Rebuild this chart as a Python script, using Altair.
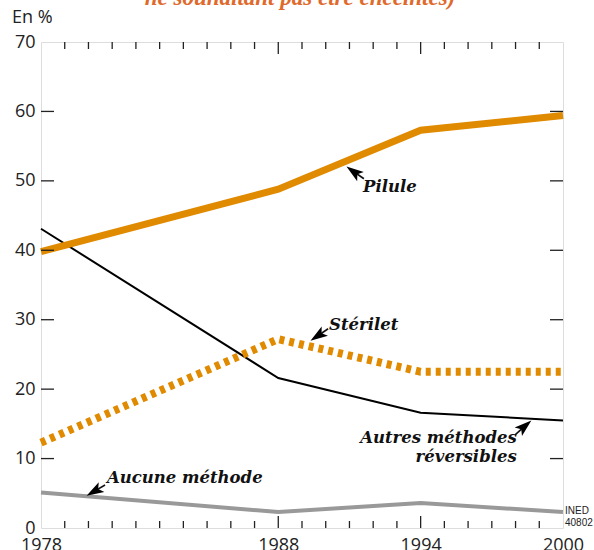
import altair as alt
import pandas as pd

# ---- data ----
years = [1978, 1988, 1994, 2000]
pilule = [39.8, 48.8, 57.3, 59.4]
sterilet = [12.3, 27.2, 22.5, 22.5]
autres = [43.1, 21.6, 16.6, 15.5]
aucune = [5.1, 2.3, 3.6, 2.3]

y_ticks = [0, 10, 20, 30, 40, 50, 60, 70]
x_labels = [1978, 1988, 1994, 2000]
minor_years = [y for y in range(1979, 2000) if y not in (1988, 1994)]
major_years = [1988, 1994]

# label annotations (data units)
lab_text = ["Pilule", "Stérilet", "Aucune méthode", "Autres méthodes", "réversibles"]
lab_x = [1991.57, 1990.14, 1980.78, 1998.05, 1998.05]
lab_y = [48.4, 28.5, 6.5, 12.2, 9.5]
lab_align = ["left", "left", "left", "right", "right"]

# arrows: tip and tail (data units), head angle
arr_tip_x = [1990.85, 1989.34, 1979.90, 1998.69]
arr_tip_y = [52.1, 26.9, 4.6, 15.6]
arr_tail_x = [1991.61, 1990.10, 1980.70, 1997.98]
arr_tail_y = [50.3, 28.7, 6.2, 13.4]
arr_angle = [306, 236, 240, 49]

W, H = 522, 486
ORANGE = "#E08A00"
SERIF = "DejaVu Serif"
SANS = "Open Sans"

rows = []
for name, vals in [("Pilule", pilule), ("Stérilet", sterilet),
                   ("Autres", autres), ("Aucune", aucune)]:
    for yr, v in zip(years, vals):
        rows.append({"serie": name, "annee": yr, "val": v})
df = pd.DataFrame(rows)

xs = alt.Scale(domain=[1978, 2000], nice=False, zero=False)
ys = alt.Scale(domain=[0, 70], nice=False)
XAX = alt.Axis(values=x_labels, format="d", ticks=False, domain=False, grid=False,
               labelFont=SANS, labelFontSize=18, labelColor="#222", labelFlush=False,
               labelBound=False, labelOverlap=False, labelPadding=8, title=None)
YAX = alt.Axis(values=y_ticks, ticks=False, domain=False, grid=False,
               labelFont=SANS, labelFontSize=18, labelColor="#222", labelFlush=False,
               labelBound=False, labelOverlap=False, labelPadding=6, title=None)

def X(f):
    return alt.X(f, scale=xs, axis=XAX)

def Y(f):
    return alt.Y(f, scale=ys, axis=YAX)

def line(name, color, width, dash=None):
    kw = dict(color=color, strokeWidth=width, strokeCap="butt", strokeJoin="miter", clip=False)
    if dash:
        kw["strokeDash"] = dash
    return alt.Chart(df[df.serie == name]).mark_line(**kw).encode(
        x=X("annee:Q"), y=Y("val:Q"))

ytk = pd.DataFrame({"val": [10, 20, 30, 40, 50, 60]})
left_ticks = alt.Chart(ytk).mark_rule(color="#222", strokeWidth=1.3).encode(
    y=Y("val:Q"), x=alt.value(0), x2=alt.value(13))
right_ticks = alt.Chart(ytk).mark_rule(color="#222", strokeWidth=1.3).encode(
    y=Y("val:Q"), x=alt.value(W - 13), x2=alt.value(W))

mn = pd.DataFrame({"annee": minor_years})
mj = pd.DataFrame({"annee": major_years})
top_minor = alt.Chart(mn).mark_rule(color="#222", strokeWidth=1.3).encode(
    x=X("annee:Q"), y=alt.value(0), y2=alt.value(7))
top_major = alt.Chart(mj).mark_rule(color="#222", strokeWidth=1.3).encode(
    x=X("annee:Q"), y=alt.value(0), y2=alt.value(12))
bot_minor = alt.Chart(mn).mark_rule(color="#222", strokeWidth=1.3).encode(
    x=X("annee:Q"), y=alt.value(H - 7), y2=alt.value(H))
bot_major = alt.Chart(mj).mark_rule(color="#222", strokeWidth=1.3).encode(
    x=X("annee:Q"), y=alt.value(H - 12), y2=alt.value(H))

labs = pd.DataFrame({"t": lab_text, "x": lab_x, "y": lab_y, "a": lab_align})
def lab(sub):
    return alt.Chart(sub).mark_text(font=SERIF, fontSize=16.5, fontWeight="bold", fontStyle="italic",
                                    color="#111", baseline="alphabetic",
                                    align=sub["a"].iloc[0]).encode(
        x=X("x:Q"), y=Y("y:Q"), text="t:N")
labels_left = lab(labs[labs.a == "left"])
labels_right = lab(labs[labs.a == "right"])

arr = pd.DataFrame({"tx": arr_tip_x, "ty": arr_tip_y, "sx": arr_tail_x, "sy": arr_tail_y,
                    "ang": arr_angle})
arr["hx"] = arr.tx + 0.42 * (arr.sx - arr.tx)
arr["hy"] = arr.ty + 0.42 * (arr.sy - arr.ty)
stems = alt.Chart(arr).mark_rule(color="#111", strokeWidth=1.6).encode(
    x=X("hx:Q"), y=Y("hy:Q"), x2="sx:Q", y2="sy:Q")
heads = alt.Chart(arr).mark_point(
    shape="M0,-1 L0.65,1 L0,0.55 L-0.65,1 Z", filled=True, color="#000", opacity=1, size=300
).encode(x=X("hx:Q"), y=Y("hy:Q"), angle=alt.Angle("ang:Q", scale=None))

enpct = alt.Chart(pd.DataFrame({"t": ["En %"]})).mark_text(
    font=SANS, fontSize=18, color="#222", align="left", baseline="middle").encode(
    text="t:N", x=alt.value(-29), y=alt.value(-24))
title = alt.Chart(pd.DataFrame({"t": ["ne souhaitant pas être enceintes)"]})).mark_text(
    font="Liberation Serif", fontSize=23, fontWeight="bold", fontStyle="italic", color="#E0692C",
    align="center", baseline="alphabetic").encode(
    text="t:N", x=alt.value(259), y=alt.value(-37))
ined = alt.Chart(pd.DataFrame({"t": ["INED", "40802"], "yy": [H - 17, H - 5]})).mark_text(
    font="Liberation Sans", fontSize=10, color="#222", align="left", baseline="middle").encode(
    text="t:N", x=alt.value(W + 2), y=alt.Y("yy:Q", scale=None))

chart = alt.layer(
    line("Aucune", "#999999", 4),
    line("Autres", "#000000", 2),
    line("Stérilet", ORANGE, 8, [5, 5]),
    line("Pilule", ORANGE, 7),
    left_ticks, right_ticks, top_minor, top_major, bot_minor, bot_major,
    stems, heads, labels_left, labels_right, enpct, title, ined,
).properties(
    width=W, height=H,
    autosize=alt.AutoSizeParams(type="none"),
    padding={"left": 41, "top": 42, "right": 31, "bottom": 22},
).configure_view(stroke="#222", strokeWidth=1.5).configure(background="white")

chart.save("out.html", embed_options={"renderer": "svg", "actions": False})
